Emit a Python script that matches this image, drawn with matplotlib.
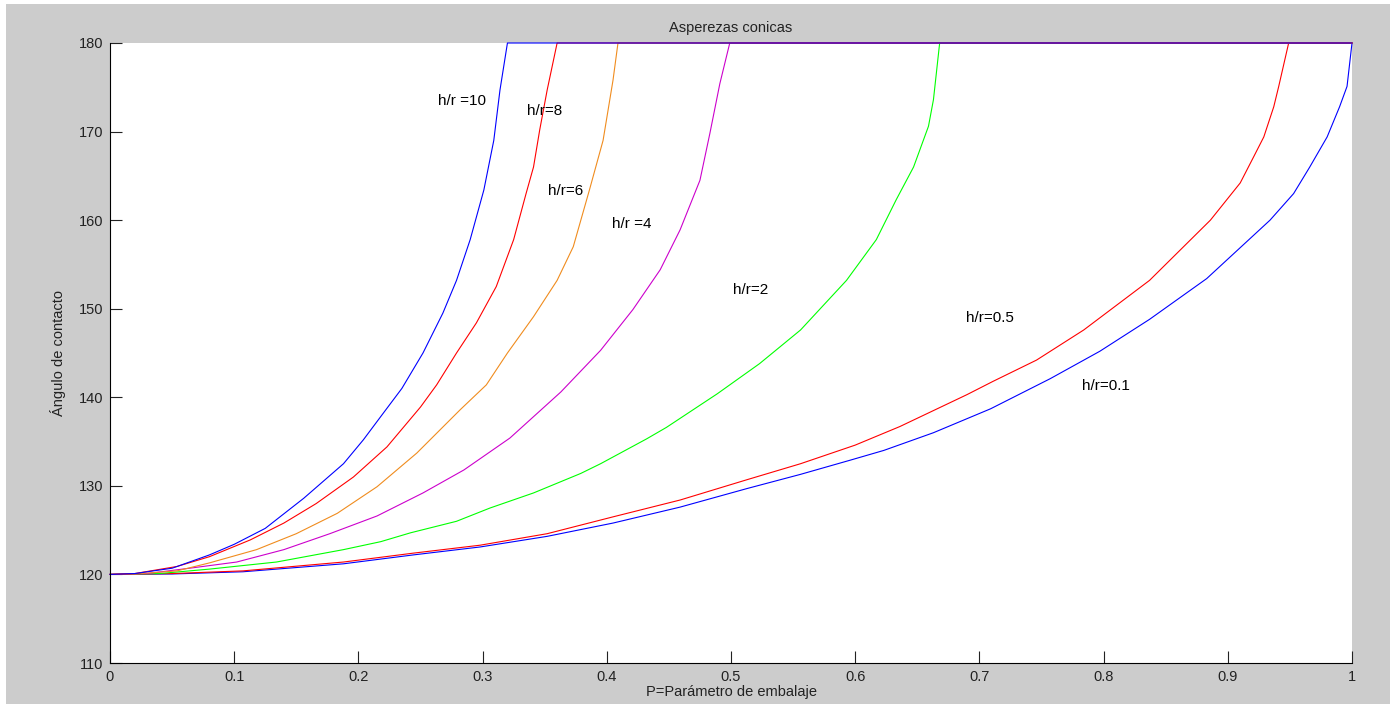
import matplotlib
matplotlib.use("Agg")
import matplotlib.pyplot as plt
from matplotlib.patches import Rectangle

# Contact angle vs packing parameter for conical asperities
p_hr01 = [0, 0.05, 0.107, 0.188, 0.244, 0.298, 0.352, 0.405, 0.459, 0.513, 0.556, 0.596,
          0.623, 0.663, 0.709, 0.757, 0.797, 0.837, 0.883, 0.934, 0.953, 0.966, 0.98,
          0.99, 0.996, 1.0]
a_hr01 = [120, 120.05, 120.3, 121.2, 122.2, 123.1, 124.3, 125.8, 127.6, 129.7, 131.3, 132.9,
          134.0, 136.0, 138.7, 142.1, 145.2, 148.8, 153.4, 160.0, 163.0, 166.0, 169.4,
          172.8, 175.1, 180]

p_hr05 = [0, 0.05, 0.107, 0.188, 0.244, 0.298, 0.352, 0.405, 0.459, 0.513, 0.556, 0.6,
          0.636, 0.69, 0.711, 0.746, 0.784, 0.837, 0.886, 0.91, 0.921, 0.929, 0.937,
          0.941, 0.949, 1.0]
a_hr05 = [120, 120.1, 120.4, 121.4, 122.4, 123.3, 124.6, 126.5, 128.4, 130.7, 132.5, 134.6,
          136.7, 140.3, 141.8, 144.2, 147.6, 153.2, 160.0, 164.2, 167.2, 169.4, 172.8,
          175.1, 180, 180]

p_hr2 = [0, 0.04, 0.08, 0.134, 0.188, 0.218, 0.242, 0.279, 0.306, 0.341, 0.379, 0.395,
         0.432, 0.448, 0.489, 0.523, 0.556, 0.593, 0.617, 0.633, 0.647, 0.659, 0.663,
         0.668, 1.0]
a_hr2 = [120, 120.1, 120.6, 121.4, 122.8, 123.7, 124.7, 126.0, 127.5, 129.2, 131.4, 132.5,
         135.3, 136.6, 140.4, 143.8, 147.6, 153.2, 157.8, 162.3, 166.0, 170.6, 173.6,
         180, 180]

p_hr4 = [0, 0.03, 0.064, 0.102, 0.14, 0.177, 0.215, 0.252, 0.285, 0.322, 0.363, 0.395,
         0.421, 0.443, 0.459, 0.475, 0.483, 0.491, 0.499, 1.0]
a_hr4 = [120, 120.1, 120.7, 121.4, 122.8, 124.6, 126.6, 129.2, 131.8, 135.4, 140.6, 145.3,
         149.9, 154.4, 158.9, 164.5, 169.8, 175.4, 180, 180]

p_hr6 = [0, 0.02, 0.054, 0.08, 0.118, 0.15, 0.183, 0.215, 0.247, 0.282, 0.303, 0.32,
         0.341, 0.36, 0.373, 0.386, 0.397, 0.405, 0.409, 1.0]
a_hr6 = [120, 120.05, 120.4, 121.3, 122.8, 124.6, 126.9, 129.9, 133.7, 138.6, 141.4, 145.0,
         149.1, 153.2, 157.0, 163.4, 169.0, 175.8, 180, 180]

p_hr8 = [0, 0.02, 0.054, 0.08, 0.113, 0.14, 0.166, 0.196, 0.223, 0.25, 0.263, 0.279,
         0.295, 0.311, 0.325, 0.335, 0.341, 0.346, 0.352, 0.36, 1.0]
a_hr8 = [120, 120.1, 120.9, 122.0, 123.9, 125.8, 128.0, 131.0, 134.4, 138.9, 141.4, 145.0,
         148.4, 152.5, 157.8, 163.0, 166.0, 170.2, 174.7, 180, 180]

p_hr10 = [0, 0.02, 0.05, 0.08, 0.10, 0.125, 0.156, 0.188, 0.204, 0.22, 0.235, 0.252,
          0.268, 0.279, 0.29, 0.301, 0.309, 0.314, 0.32, 1.0]
a_hr10 = [120, 120.1, 120.7, 122.2, 123.4, 125.2, 128.6, 132.5, 135.2, 138.2, 141.0, 145.0,
          149.5, 153.2, 157.8, 163.4, 169.0, 174.7, 180, 180]

labels = ["h/r=0.1", "h/r=0.5", "h/r=2", "h/r =4", "h/r=6", "h/r=8", "h/r =10"]
label_x = [0.783, 0.689, 0.502, 0.404, 0.353, 0.3355, 0.2643]
label_y = [141.3, 149.0, 152.1, 159.6, 163.3, 172.3, 173.5]

x_ticks = [0, 0.1, 0.2, 0.3, 0.4, 0.5, 0.6, 0.7, 0.8, 0.9, 1]
x_ticklabels = ["0", "0.1", "0.2", "0.3", "0.4", "0.5", "0.6", "0.7", "0.8", "0.9", "1"]
y_ticks = [110, 120, 130, 140, 150, 160, 170, 180]

series = [
    (p_hr01, a_hr01, "#0000ff"),
    (p_hr05, a_hr05, "#ff0000"),
    (p_hr2, a_hr2, "#00ff00"),
    (p_hr4, a_hr4, "#cc00cc"),
    (p_hr6, a_hr6, "#f08c1e"),
    (p_hr8, a_hr8, "#ff0000"),
    (p_hr10, a_hr10, "#0000ff"),
]

plt.rcParams["font.family"] = ["Liberation Sans", "DejaVu Sans"]
FS = 10.5

W, H = 1397, 708
fig = plt.figure(figsize=(W / 100, H / 100), dpi=100, facecolor="white")
# grey window area inside a thin white frame
fig.patches.append(Rectangle((6 / W, 4 / H), (1390 - 6) / W, (704 - 4) / H,
                             transform=fig.transFigure, facecolor="#cccccc",
                             edgecolor="none", zorder=-10))

ax = fig.add_axes([110 / W, 1 - 663 / H, 1242 / W, 620 / H])
ax.set_facecolor("white")

for px, ay, col in series:
    ax.plot(px, ay, color=col, linewidth=0.8, clip_on=False)

for txt, tx, ty in zip(labels, label_x, label_y):
    ax.text(tx, ty, txt, ha="left", va="center", fontsize=11, color="black")

ax.set_xlim(0, 1)
ax.set_ylim(110, 180)
ax.set_xticks(x_ticks)
ax.set_xticklabels(x_ticklabels)
ax.set_yticks(y_ticks)
ax.tick_params(direction="in", length=8.6, width=0.8, colors="#222222",
               labelsize=FS, pad=5)
ax.tick_params(axis="x", pad=5)
for side in ("top", "right"):
    ax.spines[side].set_visible(False)
for side in ("left", "bottom"):
    ax.spines[side].set_linewidth(0.8)
    ax.spines[side].set_color("black")

ax.set_title("Asperezas conicas", fontsize=FS, pad=8, color="#222222")
ax.set_xlabel("P=Parámetro de embalaje", fontsize=FS, labelpad=1, color="#222222")
ax.set_ylabel("Ángulo de contacto", fontsize=FS, labelpad=9, color="#222222")

fig.savefig("out.png", dpi=100, facecolor=fig.get_facecolor())
